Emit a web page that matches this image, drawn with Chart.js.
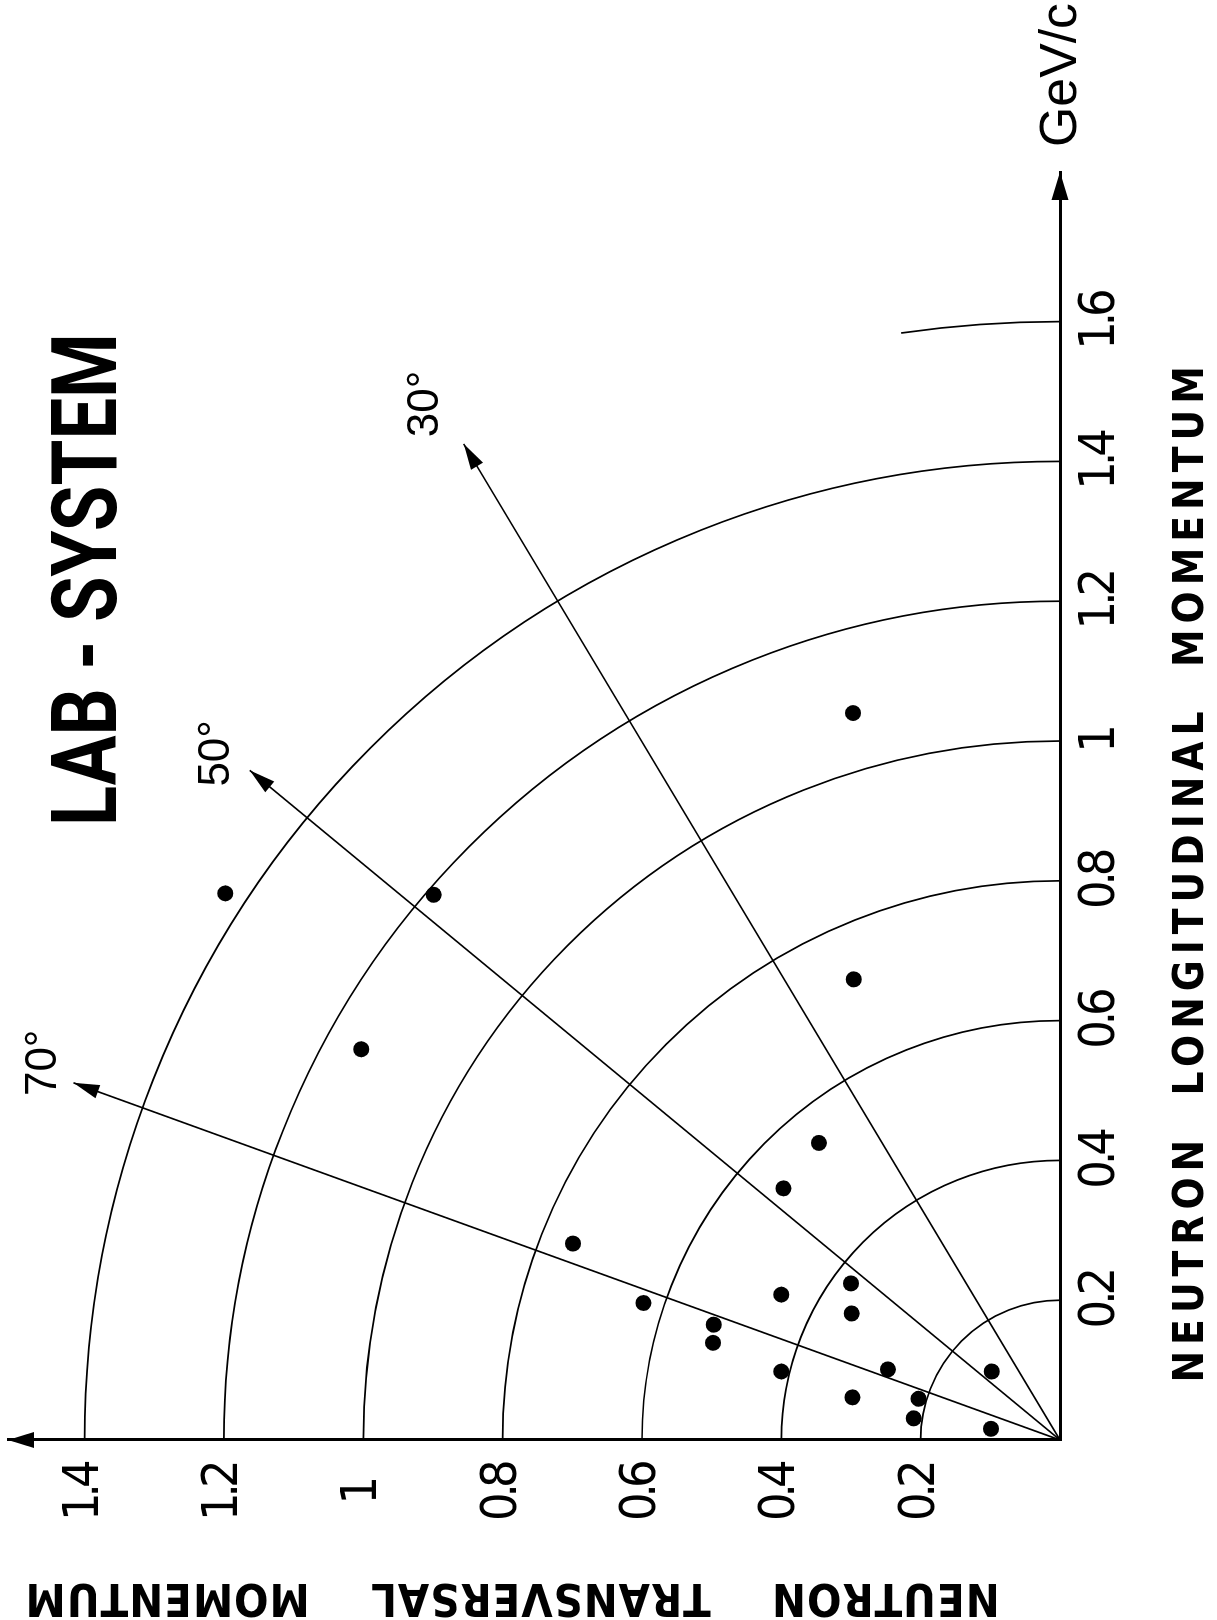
<!DOCTYPE html>
<html>
<head>
<meta charset="utf-8">
<script src="https://cdn.jsdelivr.net/npm/chart.js@4.4.1/dist/chart.umd.min.js"></script>
<style>
  html, body { margin: 0; padding: 0; background: #fff; overflow: hidden; }
  /* the figure is printed turned on its side: draw it upright, then rotate */
  #wrap {
    position: absolute; left: 0; top: 0;
    width: 1620px; height: 1217px;
    transform-origin: 0 0;
    transform: translateY(1620px) rotate(-90deg);
  }
</style>
</head>
<body>
<div id="wrap"><canvas id="myChart" width="1620" height="1217"></canvas></div>
<script>
// measured neutrons (GeV/c)
const longitudinal = [1.040, 0.780, 0.782, 0.659, 0.559, 0.425, 0.360, 0.281, 0.208, 0.224, 0.181,
  0.196, 0.165, 0.139, 0.098, 0.101, 0.098, 0.061, 0.059, 0.031, 0.016];
const transversal = [0.297, 0.899, 1.198, 0.296, 1.003, 0.346, 0.397, 0.699, 0.400, 0.300, 0.299,
  0.598, 0.497, 0.498, 0.400, 0.247, 0.098, 0.298, 0.203, 0.210, 0.099];

const longTickLabels = ["0.2", "0.4", "0.6", "0.8", "1", "1.2", "1.4", "1.6"];
const transTickLabels = ["0.2", "0.4", "0.6", "0.8", "1", "1.2", "1.4"];

// momentum circles
const circleRadii = [0.2, 0.4, 0.6, 0.8, 1.0, 1.2, 1.4];
const outerArcRadius = 1.6;
const outerArcSpan = 8.2; // degrees

// angle rays: end points (longitudinal, transversal)
const rayLabels = ["30°", "50°", "70°"];
const rayTipLong = [1.425, 0.958, 0.511];
const rayTipTrans = [0.856, 1.163, 1.416];
const rayLabelOffset = [[40, -38], [17, -33], [20, -30]];

const narrow = "'Liberation Sans Narrow', 'DejaVu Sans Condensed', 'Liberation Sans', sans-serif";

function arrowHead(ctx, fx, fy, tx, ty, len, half) {
  const a = Math.atan2(ty - fy, tx - fx);
  const bx = tx - len * Math.cos(a);
  const by = ty - len * Math.sin(a);
  ctx.beginPath();
  ctx.moveTo(tx, ty);
  ctx.lineTo(bx + half * Math.sin(a), by - half * Math.cos(a));
  ctx.lineTo(bx - half * Math.sin(a), by + half * Math.cos(a));
  ctx.closePath();
  ctx.fill();
}

function fitText(ctx, text, x, y, width) {
  const w = ctx.measureText(text).width;
  ctx.save();
  ctx.translate(x, y);
  ctx.scale(width / w, 1);
  ctx.fillText(text, 0, 0);
  ctx.restore();
}

// letter spacing for an axis: spaced-out title, tight digits
function spacing(titleGap, labelGap) {
  return (scale) => {
    if (scale.$spaced) return;
    scale.$spaced = true;
    const drawTitle = scale.drawTitle.bind(scale);
    const drawLabels = scale.drawLabels.bind(scale);
    scale.drawTitle = () => {
      scale.ctx.letterSpacing = titleGap;
      drawTitle();
      scale.ctx.letterSpacing = "0px";
    };
    scale.drawLabels = (area) => {
      scale.ctx.letterSpacing = labelGap;
      drawLabels(area);
      scale.ctx.letterSpacing = "0px";
    };
  };
}

const polarGrid = {
  id: "polarGrid",
  beforeDatasetsDraw(chart) {
    const { ctx, scales: { x, y } } = chart;
    const x0 = x.getPixelForValue(0);
    const y0 = y.getPixelForValue(0);
    ctx.save();
    ctx.strokeStyle = "#000";
    ctx.lineWidth = 1.7;
    circleRadii.forEach((r) => {
      ctx.beginPath();
      ctx.ellipse(x0, y0, x.getPixelForValue(r) - x0, y0 - y.getPixelForValue(r), 0, -Math.PI / 2, 0);
      ctx.stroke();
    });
    ctx.beginPath();
    ctx.ellipse(x0, y0, x.getPixelForValue(outerArcRadius) - x0, y0 - y.getPixelForValue(outerArcRadius),
      0, -outerArcSpan * Math.PI / 180, 0);
    ctx.stroke();
    ctx.restore();
  },
  afterDatasetsDraw(chart) {
    const { ctx, scales: { x, y } } = chart;
    const x0 = x.getPixelForValue(0);
    const y0 = y.getPixelForValue(0);
    ctx.save();
    ctx.fillStyle = "#000";

    // axis arrows
    const xEnd = x.getPixelForValue(x.max);
    const yEnd = y.getPixelForValue(y.max);
    arrowHead(ctx, x0, y0, xEnd, y0, 28, 8.5);
    arrowHead(ctx, x0, y0, x0, yEnd, 26, 8);

    // ray arrows + angle labels
    ctx.font = "44px 'Liberation Sans', sans-serif";
    ctx.textAlign = "center";
    ctx.textBaseline = "middle";
    rayLabels.forEach((label, i) => {
      const tx = x.getPixelForValue(rayTipLong[i]);
      const ty = y.getPixelForValue(rayTipTrans[i]);
      arrowHead(ctx, x0, y0, tx, ty, 26, 7);
      ctx.fillText(label, tx + rayLabelOffset[i][0], ty + rayLabelOffset[i][1]);
    });

    // unit at the end of the longitudinal axis
    ctx.font = "52px 'Liberation Sans', sans-serif";
    ctx.textAlign = "left";
    ctx.textBaseline = "middle";
    fitText(ctx, "GeV/c", xEnd + 25, y0 + 2, 144);

    // heading
    ctx.font = "bold 90px Roboto, 'Liberation Sans', sans-serif";
    ctx.textBaseline = "alphabetic";
    fitText(ctx, "LAB - SYSTEM", 794, 116, 493);
    ctx.restore();
  }
};

const ctx = document.getElementById("myChart");

new Chart(ctx, {
  type: "scatter",
  data: {
    datasets: [
      {
        data: longitudinal.map((l, i) => ({ x: l, y: transversal[i] })),
        backgroundColor: "#000",
        borderWidth: 0,
        pointRadius: 8,
      },
      ...rayLabels.map((label, i) => ({
        data: [{ x: 0, y: 0 }, { x: rayTipLong[i], y: rayTipTrans[i] }],
        showLine: true,
        borderColor: "#000",
        borderWidth: 1.7,
        pointRadius: 0,
      })),
    ],
  },
  options: {
    responsive: false,
    animation: false,
    devicePixelRatio: 1,
    layout: {
      padding: { top: 4.5, right: 172, bottom: 0, left: 0 },
    },
    plugins: {
      legend: { display: false },
      tooltip: { enabled: false },
    },
    scales: {
      x: {
        type: "linear",
        min: 0,
        max: 1.814,
        afterUpdate: spacing("6px", "-5px"),
        afterBuildTicks: (scale) => {
          scale.ticks = longTickLabels.map((t) => ({ value: parseFloat(t) }));
        },
        afterFit: (scale) => {
          scale.height = 157;
          scale.paddingLeft = 0;
          scale.paddingRight = 0;
        },
        ticks: {
          callback: (value) => longTickLabels.find((t) => parseFloat(t) === value) || "",
          color: "#000",
          padding: 11,
          maxRotation: 0,
          autoSkip: false,
          font: { family: narrow, size: 50 },
        },
        grid: { display: false, drawTicks: false },
        border: { display: true, color: "#000", width: 3 },
        title: {
          display: true,
          align: "start",
          text: "   NEUTRON  LONGITUDINAL  MOMENTUM",
          color: "#000",
          padding: { top: 0, bottom: 0 },
          font: { family: narrow, size: 42, weight: "bold" },
        },
      },
      y: {
        type: "linear",
        min: 0,
        max: 1.51,
        afterUpdate: spacing("1px", "-5px"),
        afterBuildTicks: (scale) => {
          scale.ticks = transTickLabels.map((t) => ({ value: parseFloat(t) }));
        },
        afterFit: (scale) => {
          scale.width = 180;
          scale.paddingTop = 0;
          scale.paddingBottom = 0;
        },
        ticks: {
          callback: (value) => transTickLabels.find((t) => parseFloat(t) === value) || "",
          color: "#000",
          padding: 17,
          crossAlign: "center",
          autoSkip: false,
          font: { family: narrow, size: 50 },
        },
        grid: { display: false, drawTicks: false },
        border: { display: true, color: "#000", width: 3 },
        title: {
          display: true,
          align: "start",
          text: "    NEUTRON    TRANSVERSAL    MOMENTUM",
          color: "#000",
          padding: { top: -3, bottom: 0 },
          font: { family: narrow, size: 45, weight: "bold" },
        },
      },
    },
  },
  plugins: [polarGrid],
});
</script>
</body>
</html>
